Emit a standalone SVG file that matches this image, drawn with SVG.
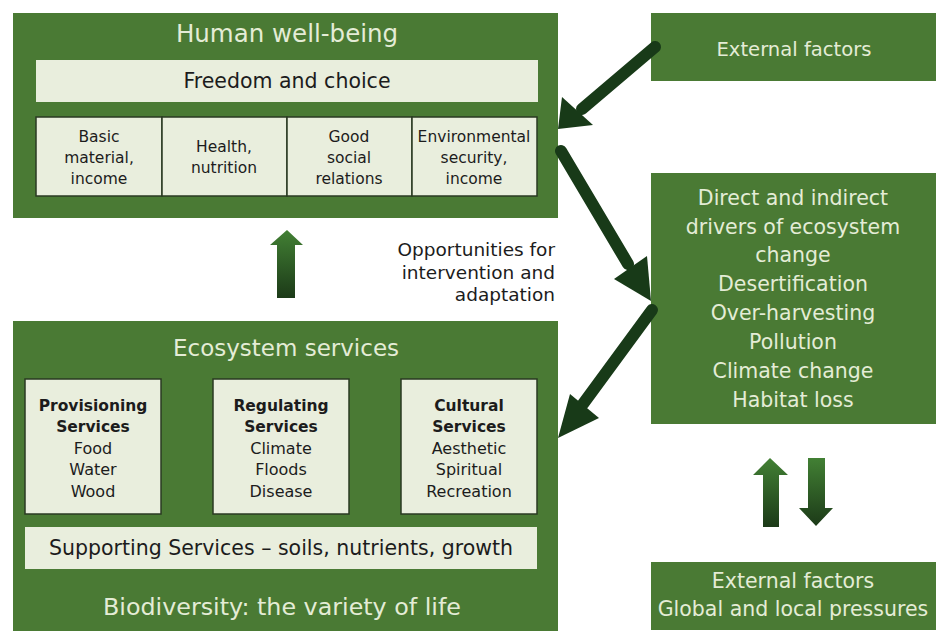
<svg xmlns="http://www.w3.org/2000/svg" width="943" height="633" viewBox="0 0 943 633">
<defs>
<style>
.g{fill:#4a7a34}
.lb{fill:#e9eedd;stroke:#2a3a22;stroke-width:1.5}
.lb2{fill:#e9eedd}
text{font-family:"DejaVu Sans","Open Sans",sans-serif}
.wt{fill:#e4ecd6;text-anchor:middle}
.dt{fill:#1c1c1c;text-anchor:middle}
.b{font-weight:bold;font-size:15.5px}
.arr{stroke:#183a18;stroke-width:12;fill:none;stroke-linecap:round}
.ah{fill:#183a18}
</style>
<linearGradient id="gu" x1="0" y1="0" x2="0" y2="1">
<stop offset="0" stop-color="#428034"/><stop offset="1" stop-color="#1c3a18"/>
</linearGradient>
</defs>
<rect width="943" height="633" fill="#ffffff"/>

<g id="human-wellbeing">
<rect class="g" x="13" y="13" width="545" height="205"/>
<text class="wt" x="287" y="42" font-size="24.5">Human well-being</text>
<rect class="lb2" x="36" y="60" width="502" height="42"/>
<text class="dt" x="287" y="88" font-size="20.5">Freedom and choice</text>
<g font-size="15.5">
<rect class="lb" x="36" y="117" width="126" height="79"/>
<rect class="lb" x="162" y="117" width="125" height="79"/>
<rect class="lb" x="287" y="117" width="125" height="79"/>
<rect class="lb" x="412" y="117" width="125" height="79"/>
<text class="dt" x="99" y="142">Basic</text>
<text class="dt" x="99" y="163">material,</text>
<text class="dt" x="99" y="184">income</text>
<text class="dt" x="224" y="152">Health,</text>
<text class="dt" x="224" y="173">nutrition</text>
<text class="dt" x="349" y="142">Good</text>
<text class="dt" x="349" y="163">social</text>
<text class="dt" x="349" y="184">relations</text>
<text class="dt" x="474" y="142">Environmental</text>
<text class="dt" x="474" y="163">security,</text>
<text class="dt" x="474" y="184">income</text>
</g>
</g>

<g id="ecosystem-services">
<rect class="g" x="13" y="321" width="545" height="310"/>
<text class="wt" x="286" y="356" font-size="23">Ecosystem services</text>
<rect class="lb" x="25" y="379" width="136" height="135"/>
<rect class="lb" x="213" y="379" width="136" height="135"/>
<rect class="lb" x="401" y="379" width="136" height="135"/>
<g font-size="16">
<text class="dt b" x="93" y="411">Provisioning</text>
<text class="dt b" x="93" y="432">Services</text>
<text class="dt" x="93" y="454">Food</text>
<text class="dt" x="93" y="475">Water</text>
<text class="dt" x="93" y="497">Wood</text>
<text class="dt b" x="281" y="411">Regulating</text>
<text class="dt b" x="281" y="432">Services</text>
<text class="dt" x="281" y="454">Climate</text>
<text class="dt" x="281" y="475">Floods</text>
<text class="dt" x="281" y="497">Disease</text>
<text class="dt b" x="469" y="411">Cultural</text>
<text class="dt b" x="469" y="432">Services</text>
<text class="dt" x="469" y="454">Aesthetic</text>
<text class="dt" x="469" y="475">Spiritual</text>
<text class="dt" x="469" y="497">Recreation</text>
</g>
<rect class="lb2" x="25" y="527" width="512" height="42"/>
<text class="dt" x="281" y="555" font-size="20.5">Supporting Services – soils, nutrients, growth</text>
<text class="wt" x="282" y="615" font-size="23.8">Biodiversity: the variety of life</text>
</g>

<g id="external-factors-top">
<rect class="g" x="651" y="13" width="285" height="68"/>
<text class="wt" x="794" y="56" font-size="19.6">External factors</text>
</g>

<g id="drivers">
<rect class="g" x="651" y="173" width="285" height="251"/>
<g font-size="20.5">
<text class="wt" x="793" y="205">Direct and indirect</text>
<text class="wt" x="793" y="234">drivers of ecosystem</text>
<text class="wt" x="793" y="262">change</text>
<text class="wt" x="793" y="291">Desertification</text>
<text class="wt" x="793" y="320">Over-harvesting</text>
<text class="wt" x="793" y="349">Pollution</text>
<text class="wt" x="793" y="378">Climate change</text>
<text class="wt" x="793" y="407">Habitat loss</text>
</g>
</g>

<g id="external-factors-bottom">
<rect class="g" x="651" y="562" width="285" height="68"/>
<text class="wt" x="793" y="588" font-size="20.5">External factors</text>
<text class="wt" x="793" y="616" font-size="20.5">Global and local pressures</text>
</g>

<g id="opportunities-label" font-size="18.5">
<text class="dt" style="text-anchor:end" x="555" y="256">Opportunities for</text>
<text class="dt" style="text-anchor:end" x="555" y="279">intervention and</text>
<text class="dt" style="text-anchor:end" x="555" y="301">adaptation</text>
</g>

<g id="connectors">
<line class="arr" x1="655" y1="47" x2="582" y2="109"/>
<polygon class="ah" points="558,129 562,97 593,125"/>
<line class="arr" x1="561" y1="151" x2="628" y2="264"/>
<polygon class="ah" points="651,301 647,256 614,279"/>
<line class="arr" x1="652" y1="310" x2="583" y2="404"/>
<polygon class="ah" points="558,438 570,394 599,418"/>
<polygon fill="url(#gu)" points="277,298 277,245 270,245 287,230 303,245 295,245 295,298"/>
<polygon fill="url(#gu)" points="763,527 763,475 753,475 770,458 788,475 779,475 779,527"/>
<polygon fill="url(#gu)" points="808,458 825,458 825,508 833,508 816,526 799,508 808,508"/>
</g>
</svg>
